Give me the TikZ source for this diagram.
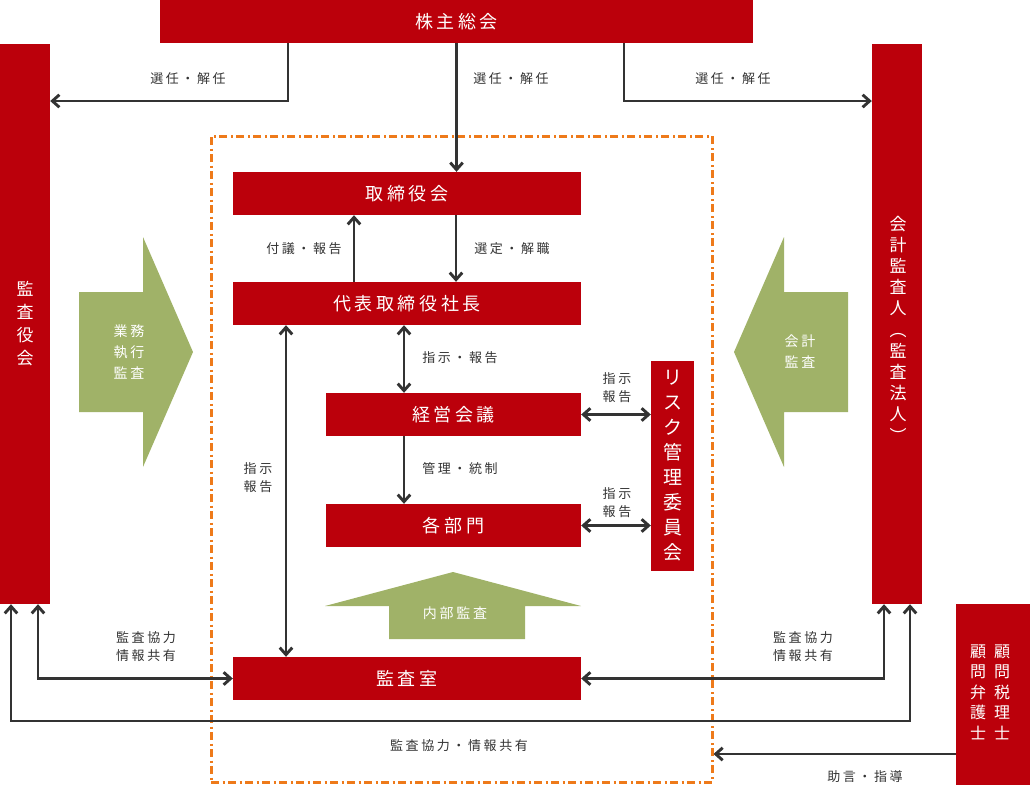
\documentclass[tikz,border=0pt]{standalone}
\usepackage{fontspec}
\setmainfont{Noto Sans CJK JP}
\newfontfamily\lsp[LetterSpace=20]{Noto Sans CJK JP}
\usetikzlibrary{arrows.meta,calc}
\definecolor{jred}{RGB}{187,0,11}
\definecolor{jgreen}{RGB}{160,178,104}
\definecolor{jorange}{RGB}{238,122,26}
\definecolor{jline}{RGB}{51,51,51}
\tikzset{
  redbox/.style={fill=jred, text=white, inner sep=0pt, font=\lsp\fontsize{18}{22}\selectfont},
  vred/.style={fill=jred, text=white, inner sep=0pt, align=center, font=\fontsize{17}{23}\selectfont},
  vtxt/.style={text=white, inner sep=0pt, align=center},
  lbl/.style={text=jline, inner sep=0pt, align=center, font=\lsp\fontsize{13}{18}\selectfont},
  gtext/.style={text=white, inner sep=0pt, align=center, font=\lsp\fontsize{14}{21}\selectfont},
  tip/.style={Straight Barb[length=7pt,width=12.5pt]},
  arr/.style={draw=jline, line width=2.9pt, -{Straight Barb[length=7pt,width=12.5pt]}},
  darr/.style={draw=jline, line width=2.9pt, {Straight Barb[length=7pt,width=12.5pt]}-{Straight Barb[length=7pt,width=12.5pt]}},
  grpbox/.style={draw=jorange, line width=3pt, dash pattern=on 8pt off 3.5pt on 2pt off 3.5pt, inner sep=0pt},
  garrow/.style={fill=jgreen, draw=none}
}
\begin{document}
\begin{tikzpicture}[x=1pt,y=-1pt]
\useasboundingbox (0,0) rectangle (1030,785);
% group frame
\node[grpbox, minimum width=501pt, minimum height=646pt] (grp) at (461.5,459) {};
% boxes
\node[redbox, minimum width=593pt, minimum height=43pt] (soukai) at (456.5,21.5) {株主総会};
\node[vred, minimum width=50pt, minimum height=560pt] (kansayaku) at (25,324) {監\\査\\役\\会};
\node[fill=jred, inner sep=0pt, minimum width=50pt, minimum height=560pt] (kaikei) at (897,324) {};
\node[vtxt, font=\fontsize{17}{21.2}\selectfont] (kaikeitxt) at (898,329) {会\\計\\監\\査\\人\\︵\\監\\査\\法\\人\\︶};
\node[fill=jred, inner sep=0pt, minimum width=74pt, minimum height=181pt] (komon) at (993,694.5) {};
\node[vtxt, font=\fontsize{16}{20.5}\selectfont] (komon1) at (1002,692) {顧\\問\\税\\理\\士};
\node[vtxt, font=\fontsize{16}{20.5}\selectfont] (komon2) at (978,692) {顧\\問\\弁\\護\\士};
\node[redbox, minimum width=348pt, minimum height=43pt] (tori) at (407,193.5) {取締役会};
\node[redbox, minimum width=348pt, minimum height=43pt] (daihyo) at (407,303.5) {代表取締役社長};
\node[redbox, minimum width=255pt, minimum height=43pt] (keiei) at (453.5,414.5) {経営会議};
\node[redbox, minimum width=255pt, minimum height=43pt] (bumon) at (453.5,525.5) {各部門};
\node[redbox, minimum width=348pt, minimum height=43pt] (kansashitsu) at (407,678.5) {監査室};
\node[vred, minimum width=43pt, minimum height=210pt, font=\fontsize{19}{25}\selectfont] (risk) at (672.5,466) {リ\\ス\\ク\\管\\理\\委\\員\\会};
% green arrows
\path[garrow] (79,292) -- (143,292) -- (143,237) -- (193,352) -- (143,467) -- (143,412) -- (79,412) -- cycle;
\node[gtext] (gyomu) at (129,352) {業務\\執行\\監査};
\path[garrow] (734,352) -- (784,237) -- (784,292) -- (848,292) -- (848,412) -- (784,412) -- (784,467) -- cycle;
\node[gtext] (kaikeikansa) at (800,352) {会計\\監査};
\path[garrow] (453,572) -- (581,606) -- (525,606) -- (525,639) -- (389,639) -- (389,606) -- (325,606) -- cycle;
\node[gtext] (naibu) at (455,613) {内部監査};
% connectors
\draw[arr] (soukai.south -| 288,0) |- (kansayaku.east |- 0,101);
\draw[arr] (soukai.south) -- (tori.north -| soukai.south);
\draw[arr] (soukai.south -| 624,0) |- (kaikei.west |- 0,101);
\draw[arr] (daihyo.north -| 354,0) -- (tori.south -| 354,0);
\draw[arr] (tori.south -| 456,0) -- (daihyo.north -| 456,0);
\draw[darr] (daihyo.south -| 404,0) -- (keiei.north -| 404,0);
\draw[arr] (keiei.south -| 404,0) -- (bumon.north -| 404,0);
\draw[darr] (daihyo.south -| 286,0) -- (kansashitsu.north -| 286,0);
\draw[darr] (keiei.east) -- (risk.west |- keiei.east);
\draw[darr] (bumon.east) -- (risk.west |- bumon.east);
\draw[darr] (kansayaku.south -| 38,0) |- (kansashitsu.west);
\draw[darr] (kaikei.south -| 884,0) |- (kansashitsu.east);
\coordinate (loopL) at (11,721);
\coordinate (loopR) at (910,721);
\draw[darr] (kansayaku.south -| loopL) -- (loopL) -- (loopR) -- (kaikei.south -| loopR);
\draw[arr] (komon.west |- 0,754) -- (grp.east |- 0,754);
% labels
\node[lbl] (l1) at (188,79) {選任・解任};
\node[lbl] (l2) at (511,79) {選任・解任};
\node[lbl] (l3) at (733,79) {選任・解任};
\node[lbl] (l4) at (304,249) {付議・報告};
\node[lbl] (l5) at (512,249) {選定・解職};
\node[lbl] (l6) at (460,358) {指示・報告};
\node[lbl] (l7) at (460,469) {管理・統制};
\node[lbl] (l8) at (258,478) {指示\\報告};
\node[lbl] (l9) at (617,388) {指示\\報告};
\node[lbl] (l10) at (617,503) {指示\\報告};
\node[lbl] (l11) at (146,647) {監査協力\\情報共有};
\node[lbl] (l12) at (803,647) {監査協力\\情報共有};
\node[lbl] (l13) at (459,746) {監査協力・情報共有};
\node[lbl] (l14) at (865,777) {助言・指導};
\end{tikzpicture}
\end{document}
